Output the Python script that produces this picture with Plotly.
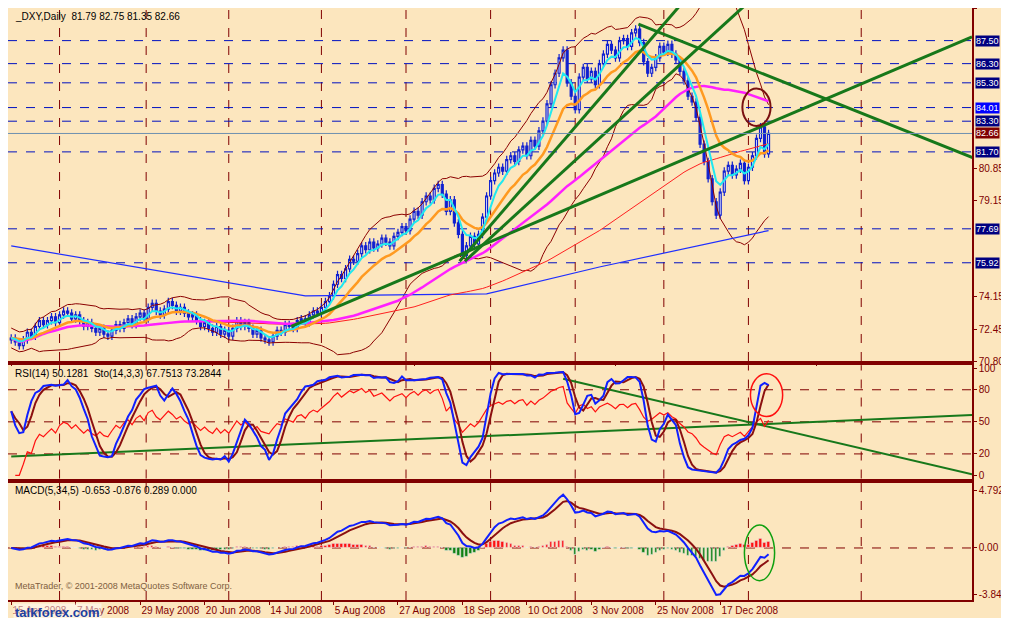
import numpy as np, pandas as pd
import plotly.graph_objects as go
from plotly.subplots import make_subplots

closes = [72.0,71.8,71.6,71.9,72.3,72.1,72.6,72.9,72.7,72.9,73.1,72.8,73.2,73.4,73.3,73.0,
73.2,72.9,72.6,72.8,72.5,72.3,72.5,72.2,72.1,72.4,72.7,72.5,72.8,73.0,72.7,73.1,
73.3,73.0,73.6,73.8,73.4,73.2,73.5,73.9,73.7,73.4,73.6,73.3,73.1,73.2,72.9,72.6,
72.8,72.5,72.3,72.6,72.2,72.4,72.1,72.5,72.9,72.6,72.8,72.5,72.2,72.4,72.0,71.9,
71.8,72.1,72.4,72.3,72.7,72.6,72.5,72.9,73.0,72.8,73.2,73.4,73.3,73.6,73.9,74.2,
74.8,75.3,75.1,75.6,76.1,76.0,76.4,76.8,76.6,77.0,76.7,76.9,77.2,77.0,76.8,77.3,
77.5,77.8,77.6,78.2,78.6,78.4,79.1,79.4,79.2,79.8,80.0,79.5,78.6,79.2,78.0,77.4,
76.3,76.8,77.3,76.9,77.4,78.3,79.4,80.2,80.6,80.9,80.7,81.3,81.5,81.2,81.8,82.0,
81.5,82.3,82.0,82.8,83.3,84.2,85.2,85.8,86.6,87.0,85.3,84.6,83.9,85.6,86.1,85.5,
85.9,85.2,86.3,86.8,87.3,87.0,86.6,87.5,87.6,87.2,87.9,88.1,87.4,86.4,85.8,86.1,
86.6,87.2,86.9,87.3,86.8,86.5,85.9,85.4,84.6,84.3,83.5,82.1,81.2,80.3,79.1,78.4,
79.6,80.7,81.0,80.5,80.8,81.1,80.2,80.9,81.5,82.4,83.0,81.6,82.66]
first_open = 71.9
tick_labels = ["15 Apr 2008","7 May 2008","29 May 2008","20 Jun 2008","14 Jul 2008","5 Aug 2008",
"27 Aug 2008","18 Sep 2008","10 Oct 2008","3 Nov 2008","25 Nov 2008","17 Dec 2008"]
levels = [87.50, 86.30, 85.30, 84.01, 83.30, 81.70, 77.69, 75.92]
price_ticks = [89.20, 80.85, 79.15, 74.15, 72.45, 70.80]
ma200_x = [0, 73, 118, 146, 188]
ma200_y = [76.8, 74.2, 74.3, 75.7, 77.6]
trend_main = [((69.5, 72.6), (238.5, 87.7)), ((111.3, 76.0), (166.7, 89.5)),
              ((112.6, 76.0), (183.0, 89.5)), ((155.7, 88.36), (238.7, 81.4))]
trend_rsi = [((0, 17.5), (238.5, 56.3)), ((137, 90.3), (238.5, 1.0))]

N = len(closes)
c = pd.Series(closes)
o = pd.Series([first_open] + closes[:-1])
h = np.maximum(o, c) + 0.2
l = np.minimum(o, c) - 0.2
x = np.arange(N)

BG = "#FCE6BE"; DR = "#800000"
fig = make_subplots(rows=3, cols=1, shared_xaxes=True, row_heights=[355, 114, 118], vertical_spacing=0.007)

ema5 = c.ewm(span=5, adjust=False).mean()
ema13 = c.ewm(span=13, adjust=False).mean()
sma50 = c.rolling(50, min_periods=1).mean()
sma100 = c.rolling(100, min_periods=1).mean()
m20 = c.rolling(20, min_periods=1).mean(); s20 = c.rolling(20, min_periods=5).std().bfill()
for yv in [m20 + 2*s20, m20 - 2*s20]:
    fig.add_trace(go.Scatter(x=x, y=yv, mode="lines", line=dict(color="#8B0000", width=1)), 1, 1)
fig.add_trace(go.Scatter(x=ma200_x, y=ma200_y, mode="lines", line=dict(color="#1E2EFF", width=1.2)), 1, 1)
fig.add_trace(go.Scatter(x=x, y=sma100, mode="lines", line=dict(color="#FF2020", width=1)), 1, 1)
fig.add_trace(go.Scatter(x=x, y=sma50, mode="lines", line=dict(color="#FF20FF", width=2.5)), 1, 1)
fig.add_trace(go.Scatter(x=x, y=ema13, mode="lines", line=dict(color="#FF9A20", width=2.5)), 1, 1)
fig.add_trace(go.Scatter(x=x, y=ema5, mode="lines", line=dict(color="#20E8F0", width=2)), 1, 1)
for (a, b) in trend_main:
    fig.add_trace(go.Scatter(x=[a[0], b[0]], y=[a[1], b[1]], mode="lines", line=dict(color="#17781A", width=3)), 1, 1)
fig.add_trace(go.Candlestick(x=x, open=o, high=h, low=l, close=c,
    increasing=dict(line=dict(color="#1020D0", width=1.2), fillcolor="white"),
    decreasing=dict(line=dict(color="#1020D0", width=1.2), fillcolor="#1020D0"), whiskerwidth=0), 1, 1)

# RSI
d = c.diff()
up = d.clip(lower=0).ewm(alpha=1/14, adjust=False).mean()
dn = (-d.clip(upper=0)).ewm(alpha=1/14, adjust=False).mean()
rsi = 100 - 100/(1 + up/dn.replace(0, 1e-9))
ll = pd.Series(l).rolling(14, min_periods=1).min(); hh = pd.Series(h).rolling(14, min_periods=1).max()
k = (100*(c - ll)/(hh - ll)).rolling(3, min_periods=1).mean()
dd = k.rolling(3, min_periods=1).mean()
for (a, b) in trend_rsi:
    fig.add_trace(go.Scatter(x=[a[0], b[0]], y=[a[1], b[1]], mode="lines", line=dict(color="#17781A", width=2)), 2, 1)
fig.add_trace(go.Scatter(x=x[1:], y=rsi[1:], mode="lines", line=dict(color="#FF1010", width=1.2)), 2, 1)
fig.add_trace(go.Scatter(x=x, y=dd, mode="lines", line=dict(color="#8B1010", width=2)), 2, 1)
fig.add_trace(go.Scatter(x=x, y=k, mode="lines", line=dict(color="#1020FF", width=2)), 2, 1)

# MACD
macd = c.ewm(span=5, adjust=False).mean() - c.ewm(span=34, adjust=False).mean()
sig = macd.ewm(span=5, adjust=False).mean()
hist = macd - sig
fig.add_trace(go.Bar(x=x, y=hist, marker_color=np.where(hist >= 0, "#FF1010", "#108010"), width=0.6), 3, 1)
fig.add_trace(go.Scatter(x=x, y=sig, mode="lines", line=dict(color="#8B1010", width=2)), 3, 1)
fig.add_trace(go.Scatter(x=x, y=macd, mode="lines", line=dict(color="#1020FF", width=2)), 3, 1)

grid_x = [12, 33.5, 54, 77, 98, 119, 140, 162, 183, 211]
for r in (1, 2, 3):
    for gx in grid_x:
        fig.add_vline(x=gx, line=dict(color=DR, width=1, dash="dash"), row=r, col=1, layer="below")
lf = dict(color="white", size=9, family="Liberation Sans")
for lv in levels:
    fig.add_hline(y=lv, line=dict(color="#0010C0", width=1, dash="dash"), row=1, col=1, layer="below")
    fig.add_annotation(x=1.003, xref="paper", y=lv, yref="y", text=f"{lv:.2f}", showarrow=False, xanchor="left",
                       bgcolor="#0000FF" if lv == 84.01 else "#000080", font=lf, borderpad=0)
fig.add_hline(y=82.66, line=dict(color="#7090B0", width=1), row=1, col=1)
fig.add_annotation(x=1.003, xref="paper", y=82.66, yref="y", text="82.66", showarrow=False, xanchor="left",
                   bgcolor=DR, font=lf, borderpad=0)
for lv in (80, 50, 20):
    fig.add_hline(y=lv, line=dict(color=DR, width=1, dash="dash"), row=2, col=1, layer="below")
fig.add_hline(y=0, line=dict(color=DR, width=1, dash="dash"), row=3, col=1, layer="below")

fig.add_shape(type="circle", xref="x", yref="y", x0=181.5, x1=188.5, y0=83.05, y1=85.0, line=dict(color="#7A1010", width=2))
fig.add_shape(type="circle", xref="x2", yref="y2", x0=183.5, x1=191.5, y0=55, y1=95, line=dict(color="#FF1010", width=1.5))
fig.add_shape(type="circle", xref="x3", yref="y3", x0=182, x1=189.5, y0=-2.7, y1=1.9, line=dict(color="#10A010", width=1.5))

tf = dict(family="Liberation Sans", size=10, color="#000000")
fig.add_annotation(x=0.005, y=0.999, xref="paper", yref="paper", text="_DXY,Daily  81.79 82.75 81.35 82.66", showarrow=False, xanchor="left", yanchor="top", font=tf)
fig.add_annotation(x=0.005, y=0.396, xref="paper", yref="paper", text="RSI(14) 50.1281  Sto(14,3,3) 67.7513 73.2844", showarrow=False, xanchor="left", yanchor="top", font=tf)
fig.add_annotation(x=0.005, y=0.197, xref="paper", yref="paper", text="MACD(5,34,5) -0.653 -0.876 0.289 0.000", showarrow=False, xanchor="left", yanchor="top", font=tf)
fig.add_annotation(x=0.005, y=0.012, xref="paper", yref="paper", text="MetaTrader, © 2001-2008 MetaQuotes Software Corp.", showarrow=False, xanchor="left", yanchor="bottom", font=dict(family="Liberation Sans", size=9, color="#806040"))
fig.add_annotation(x=0.005, y=-0.005, xref="paper", yref="paper", text="<b>talkforex.com</b>", showarrow=False, xanchor="left", yanchor="top", font=dict(family="Liberation Sans", size=13, color="#2040A0"), bgcolor="rgba(255,255,255,0.5)")

ax = dict(showgrid=False, zeroline=False, showline=True, linecolor=DR, mirror=True, linewidth=1.5, automargin=False,
          ticks="outside", tickcolor=DR, ticklen=3, tickfont=dict(family="Liberation Sans", size=10, color=DR))
fig.update_xaxes(range=[-0.8, 238.5], rangeslider_visible=False, **ax)
fig.update_xaxes(tickmode="array", tickvals=list(range(0, 177, 16)), ticktext=tick_labels, tickangle=0,
                 ticklabelposition="outside right", row=3, col=1)
fig.update_yaxes(side="right", **ax)
fig.update_yaxes(range=[70.8, 89.2], tickvals=price_ticks, ticktext=[f"{v:.2f}" for v in price_ticks], row=1, col=1)
fig.update_yaxes(range=[-3, 103], tickvals=[0, 20, 50, 80, 100], row=2, col=1)
fig.update_yaxes(range=[-4.3, 5.4], tickvals=[-3.841, 0, 4.792], ticktext=["-3.841", "0.00", "4.792"], row=3, col=1)
fig.update_layout(width=1001, height=610, margin=dict(l=0, r=37, t=0, b=18), paper_bgcolor=BG, plot_bgcolor=BG,
                  showlegend=False, bargap=0)
fig.write_html("out.html")
